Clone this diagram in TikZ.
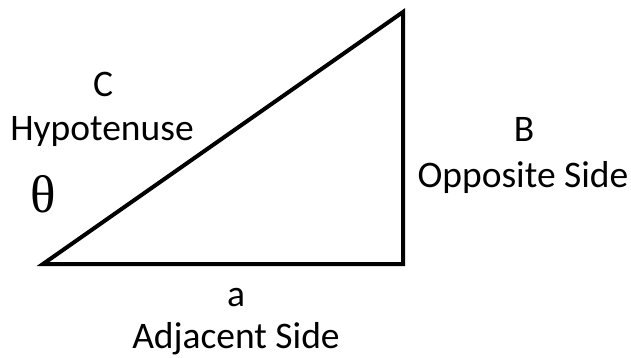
\documentclass[tikz,border=0pt]{standalone}
\usepackage{fontspec}
\setmainfont{Carlito}
\newfontfamily\thetafont{Liberation Serif}
\begin{document}
\begin{tikzpicture}[x=1pt,y=-1pt,
  lbl/.style={anchor=base,inner sep=0pt,font=\fontsize{37.5}{45}\selectfont},
  side/.style={line width=4pt,line join=miter}]
\useasboundingbox (0,0) rectangle (631,358);
\coordinate (A) at (43,264);
\coordinate (R) at (403,264);
\coordinate (T) at (403,12);
\draw[side] (A) -- (R) -- (T) -- cycle;
\node[lbl] (c) at (103,97) {C};
\node[lbl] (hyp) at (102,141) {Hypotenuse};
\node[lbl] (b) at (524,142) {B};
\node[lbl] (opp) at (523,187) {Opposite Side};
\node[lbl] (a) at (236,306) {a};
\node[lbl] (adj) at (236,348) {Adjacent Side};
\node[anchor=center,inner sep=0pt,font=\thetafont\fontsize{53}{53}\selectfont] (th) at (43,194) {θ};
\end{tikzpicture}
\end{document}
